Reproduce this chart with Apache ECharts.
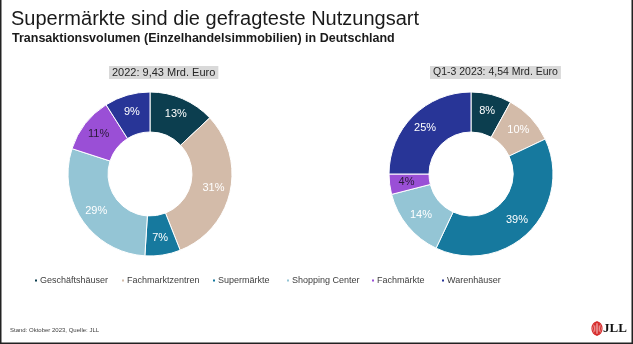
<!DOCTYPE html>
<html>
<head>
<meta charset="utf-8">
<script src="https://cdn.jsdelivr.net/npm/echarts@6/dist/echarts.min.js"></script>
<style>
  html, body { margin: 0; padding: 0; background: #fff; }
  #chart { width: 633px; height: 344px; }
</style>
</head>
<body>
<div id="chart"></div>
<script>
// Nutzungsarten (Einzelhandelsimmobilien)
const categories = ['Geschäftshäuser', 'Fachmarktzentren', 'Supermärkte', 'Shopping Center', 'Fachmärkte', 'Warenhäuser'];
// Anteile am Transaktionsvolumen in %
const share2022 = [13, 31, 7, 29, 11, 9];
const share2023 = [8, 10, 39, 14, 4, 25];
const panelTitles = ['2022: 9,43 Mrd. Euro', 'Q1-3 2023: 4,54 Mrd. Euro'];

const colors = ['#0c3e4f', '#d3bba9', '#16799e', '#94c5d5', '#9a4fd6', '#283597'];
const darkLabel = ['Fachmärkte'];
// linke Kante der Legendeneinträge
const legendLeft = [33, 120, 211, 285, 370, 440];

function ring(values, cx) {
  return {
    type: 'pie',
    center: [cx, 174],
    radius: [42, 82],
    startAngle: 90,
    clockwise: true,
    avoidLabelOverlap: false,
    silent: true,
    itemStyle: { borderColor: '#fff', borderWidth: 1 },
    label: {
      show: true,
      position: 'inside',
      formatter: '{c}%',
      fontFamily: 'Liberation Sans',
      fontSize: 11
    },
    labelLine: { show: false },
    data: categories.map((name, i) => ({
      name,
      value: values[i],
      label: { color: darkLabel.includes(name) ? '#2a1a3a' : '#ffffff' }
    }))
  };
}

const chart = echarts.init(document.getElementById('chart'), null, { renderer: 'canvas' });
chart.setOption({
  animation: false,
  color: colors,
  title: [
    {
      text: 'Supermärkte sind die gefragteste Nutzungsart',
      left: 6, top: 4,
      textStyle: { fontFamily: 'Liberation Sans', fontSize: 20, fontWeight: 'normal', color: '#1a1a1a' }
    },
    {
      text: 'Transaktionsvolumen (Einzelhandelsimmobilien) in Deutschland',
      left: 7, top: 27,
      textStyle: { fontFamily: 'Liberation Sans', fontSize: 12.5, fontWeight: 'bold', color: '#1a1a1a' }
    },
    {
      text: panelTitles[0],
      left: 109, top: 66,
      backgroundColor: '#d9d9d9',
      padding: [1, 3, 1, 3],
      textStyle: { fontFamily: 'Liberation Sans', fontSize: 11, fontWeight: 'normal', color: '#262626' }
    },
    {
      text: panelTitles[1],
      left: 430, top: 66,
      backgroundColor: '#d9d9d9',
      padding: [1, 3, 1, 3],
      textStyle: { fontFamily: 'Liberation Sans', fontSize: 10.5, fontWeight: 'normal', color: '#262626' }
    },
    {
      text: 'Stand: Oktober 2023, Quelle: JLL',
      left: 5, top: 322,
      textStyle: { fontFamily: 'Liberation Sans', fontSize: 6, fontWeight: 'normal', color: '#404040' }
    }
  ],
  legend: categories.map((name, i) => ({
    data: [name],
    left: legendLeft[i], top: 276,
    padding: 0,
    icon: 'rect',
    itemWidth: 4, itemHeight: 4,
    selectedMode: false,
    textStyle: { fontFamily: 'Liberation Sans', fontSize: 9, color: '#404040', padding: [0, 0, 0, -3] }
  })),
  series: [ring(share2022, 150), ring(share2023, 471)],
  graphic: [
    // Rahmen links, rechts, unten
    { type: 'line', shape: { x1: 0.75, y1: 0, x2: 0.75, y2: 344 }, style: { stroke: '#222', lineWidth: 1.5 } },
    { type: 'line', shape: { x1: 632.25, y1: 0, x2: 632.25, y2: 344 }, style: { stroke: '#222', lineWidth: 1.5 } },
    { type: 'line', shape: { x1: 0, y1: 343.25, x2: 633, y2: 343.25 }, style: { stroke: '#222', lineWidth: 1.5 } },
    // JLL Logo
    { type: 'ellipse', shape: { cx: 597, cy: 328.5, rx: 5, ry: 6.5 }, style: { fill: 'none', stroke: '#d62b2b', lineWidth: 1.2 } },
    { type: 'ellipse', shape: { cx: 597, cy: 328.5, rx: 3.4, ry: 6.5 }, style: { fill: 'none', stroke: '#d62b2b', lineWidth: 1.2 } },
    { type: 'ellipse', shape: { cx: 597, cy: 328.5, rx: 1.8, ry: 6.5 }, style: { fill: 'none', stroke: '#d62b2b', lineWidth: 1.2 } },
    { type: 'line', shape: { x1: 597, y1: 322, x2: 597, y2: 335 }, style: { stroke: '#d62b2b', lineWidth: 1.2 } },
    { type: 'text', left: 603, top: 322, style: { text: 'JLL', font: 'bold 13px "Liberation Serif"', fill: '#111' } }
  ]
});
</script>
</body>
</html>
